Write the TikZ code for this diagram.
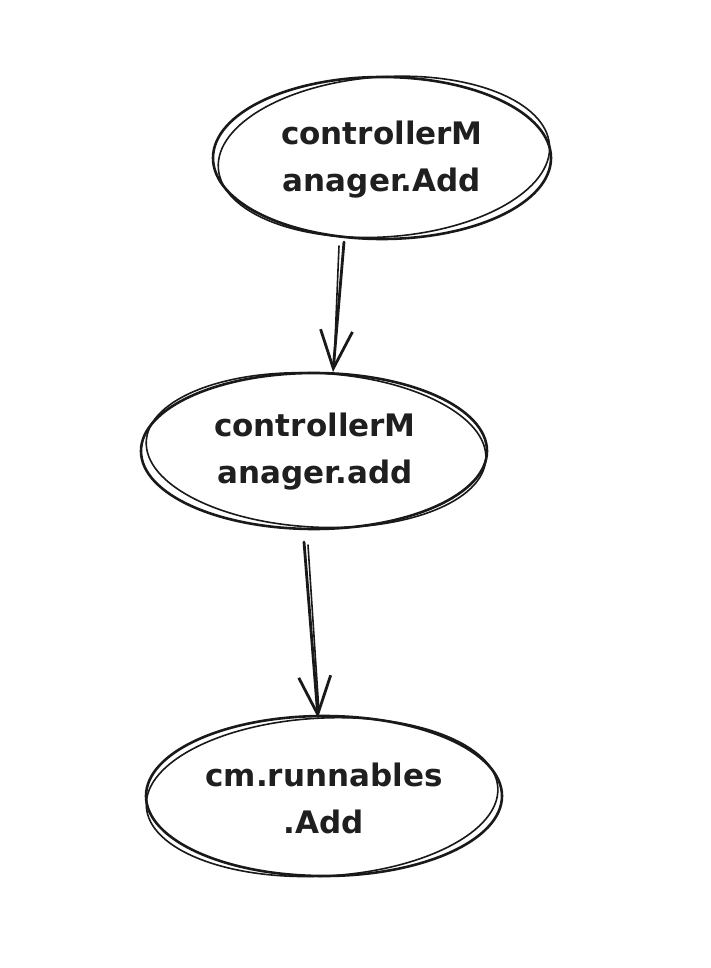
\documentclass[tikz,border=0pt]{standalone}
\usepackage{fontspec}
\setmainfont{DejaVu Sans}
\usetikzlibrary{arrows.meta}
\begin{document}
\begin{tikzpicture}[x=1pt,y=-1pt,
  sk/.style={draw=black!90, line width=2.6pt, line cap=round, line join=round},
  lbl/.style={font=\fontsize{31}{47}\selectfont\bfseries, align=center, text=black!88},
  arr/.style={draw=black!90, line width=2.8pt, line cap=round, -{Straight Barb[length=38pt,width=32pt,line width=2.8pt]}}]
\useasboundingbox (0,0) rectangle (710,968);
\fill[white] (0,0) rectangle (710,968);
% ellipse 1
\draw[sk] (382,158) ellipse [x radius=169, y radius=81];
\draw[sk, line width=1.6pt, rotate around={4:(382,158)}] (384,157) ellipse [x radius=166, y radius=80];
\node[lbl] (a) at (382,160) {controllerM\\anager.Add};
% ellipse 2
\draw[sk] (314,451) ellipse [x radius=173, y radius=78];
\draw[sk, line width=1.6pt, rotate around={-3:(314,451)}] (316,450) ellipse [x radius=170, y radius=77];
\node[lbl] (b) at (315,452) {controllerM\\anager.add};
% ellipse 3
\draw[sk] (324,796) ellipse [x radius=178, y radius=80];
\draw[sk, line width=1.6pt, rotate around={3:(324,796)}] (322,797) ellipse [x radius=176, y radius=79];
\node[lbl] (c) at (324,798) {cm.runnables\\.Add};
% arrows
\coordinate (a1) at (344,242);
\coordinate (a2) at (333,372);
\coordinate (b1) at (304,542);
\coordinate (b2) at (318,718);
\draw[arr] (a1) -- (a2);
\draw[sk, line width=1.6pt] (339,246) -- (334,366);
\draw[arr] (b1) -- (b2);
\draw[sk, line width=1.6pt] (308,545) -- (319,712);
\end{tikzpicture}
\end{document}
